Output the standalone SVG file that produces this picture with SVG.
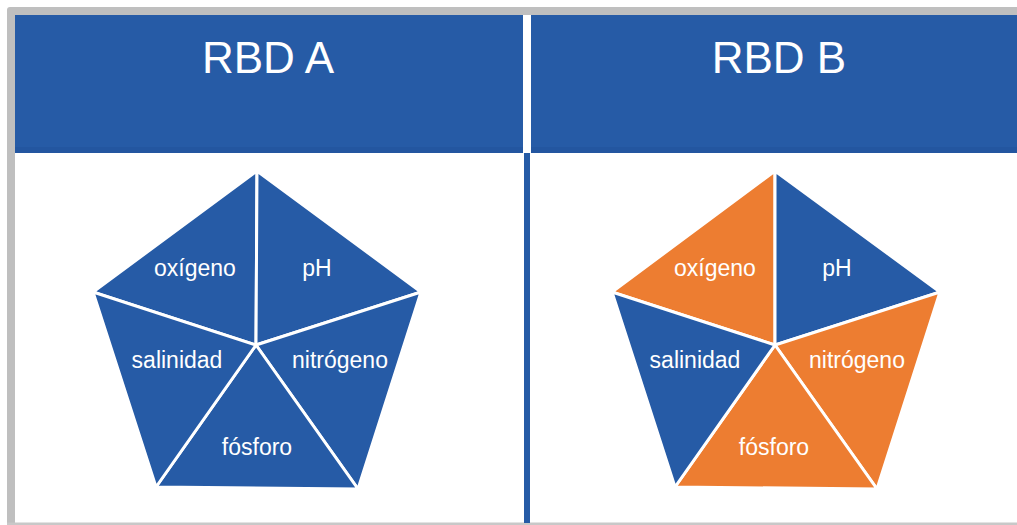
<svg xmlns="http://www.w3.org/2000/svg" width="1017" height="525" viewBox="0 0 1017 525">
<style>
.blue{fill:#265ba6}
.orange{fill:#ed7d31}
.slice{stroke:#ffffff;stroke-width:3;stroke-linejoin:miter}
.hdr{font-family:"Liberation Sans",Arial,sans-serif;font-size:44px;fill:#ffffff;text-anchor:middle}
.lbl{font-family:"Liberation Sans",Arial,sans-serif;font-size:23px;fill:#ffffff;text-anchor:middle}
</style>
<rect x="0" y="0" width="1017" height="525" fill="#ffffff"/>
<g id="frame">
<path d="M7,525 V10 Q7,7 10,7 H1017 V15 H15 V525 Z" fill="#bfbfbf"/>
<rect x="7" y="522.5" width="1010" height="2.5" fill="#c8c8c8"/>
</g>
<g id="header-a">
<rect x="15" y="15" width="508" height="138" class="blue"/>
<rect x="15" y="147" width="508" height="6" fill="#2356a0"/>
<text x="268" y="73" class="hdr">RBD A</text>
</g>
<g id="header-b">
<rect x="531" y="15" width="486" height="138" class="blue"/>
<rect x="531" y="147" width="486" height="6" fill="#2356a0"/>
<text x="779" y="73" class="hdr">RBD B</text>
</g>
<g id="divider">
<rect x="524" y="153" width="6" height="370" class="blue"/>
</g>
<g id="connectors"></g>
<g id="pentagon-a">
<g id="a-oxigeno"><polygon class="slice blue" points="257,171 256,345 93,292"/><text x="195" y="276" class="lbl">oxígeno</text></g>
<g id="a-ph"><polygon class="slice blue" points="257,171 421,292 256,345"/><text x="317" y="276" class="lbl">pH</text></g>
<g id="a-nitrogeno"><polygon class="slice blue" points="421,292 358,489 256,345"/><text x="340" y="368" class="lbl">nitrógeno</text></g>
<g id="a-fosforo"><polygon class="slice blue" points="358,489 156,487 256,345"/><text x="257" y="455" class="lbl">fósforo</text></g>
<g id="a-salinidad"><polygon class="slice blue" points="156,487 93,292 256,345"/><text x="177" y="368" class="lbl">salinidad</text></g>
</g>
<g id="pentagon-b">
<g id="b-oxigeno"><polygon class="slice orange" points="775,171 775,345 612,292"/><text x="715" y="276" class="lbl">oxígeno</text></g>
<g id="b-ph"><polygon class="slice blue" points="775,171 940,292 775,345"/><text x="837" y="276" class="lbl">pH</text></g>
<g id="b-nitrogeno"><polygon class="slice orange" points="940,292 877,489 775,345"/><text x="857" y="368" class="lbl">nitrógeno</text></g>
<g id="b-fosforo"><polygon class="slice orange" points="877,489 675,487 775,345"/><text x="774" y="455" class="lbl">fósforo</text></g>
<g id="b-salinidad"><polygon class="slice blue" points="675,487 612,292 775,345"/><text x="695" y="368" class="lbl">salinidad</text></g>
</g>
</svg>
